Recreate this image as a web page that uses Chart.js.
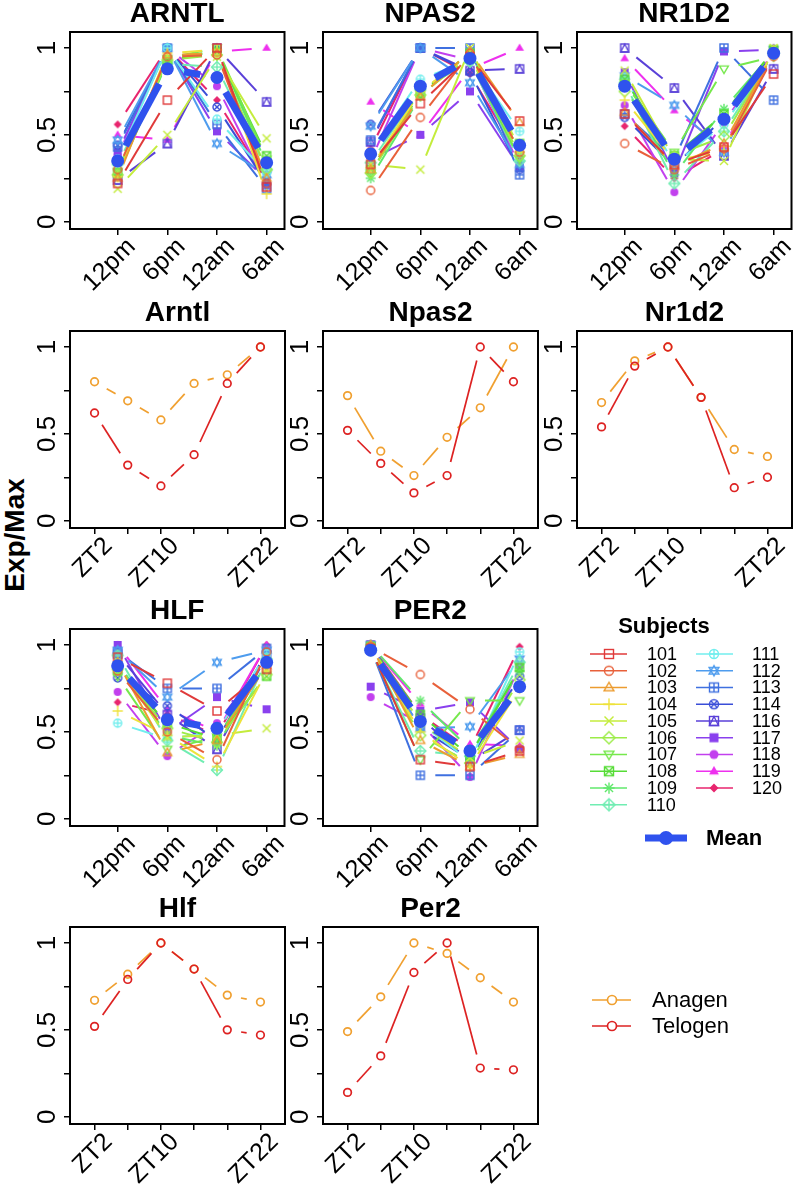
<!DOCTYPE html>
<html><head><meta charset="utf-8">
<script src="https://cdn.jsdelivr.net/npm/chart.js@4.4.1/dist/chart.umd.min.js"></script>
<style>
html,body{margin:0;padding:0;background:#fff;}
#page{position:relative;width:796px;height:1186px;overflow:hidden;background:#fff;}
canvas{position:absolute;}
#ylab{position:absolute;left:15px;top:535px;transform:translate(-50%,-50%) rotate(-90deg);font:bold 28px "Liberation Sans",Arial,sans-serif;white-space:nowrap;color:#000;}
</style></head>
<body><div id="page"><div id="ylab">Exp/Max</div></div>
<script>
// ---------------- DATA ----------------
const subjects = ['101','102','103','104','105','106','107','108','109','110','111','112','113','114','116','117','118','119','120'];
const humanTimes = ['12pm','6pm','12am','6am'];
const mouseTimes = ['ZT2','','ZT10','','','ZT22'];
const yTickValues = [0,0.25,0.5,0.75,1];
const yTickLabels = ['0','','0.5','','1'];

// per subject rows: [12pm, 6pm, 12am, 6am]
const ARNTL = [
 [0.22,0.70,1.00,0.20],[0.30,0.95,0.96,0.22],[0.25,0.96,0.97,0.25],[0.26,0.97,0.99,0.16],
 [0.19,0.50,0.95,0.48],[0.27,0.93,0.96,0.30],[0.29,0.94,1.00,0.36],[0.28,0.93,0.98,0.38],
 [0.27,0.92,0.99,0.33],[0.33,0.91,0.89,0.30],[0.36,1.00,0.59,0.28],[0.47,1.00,0.45,0.27],
 [0.43,1.00,0.56,0.19],[0.44,1.00,0.66,0.22],[0.24,0.45,1.00,0.69],[0.40,1.00,0.52,0.24],
 [0.38,1.00,0.78,0.21],[0.50,0.47,0.98,1.00],[0.56,1.00,0.70,0.23]];
const ARNTL_mean = [0.35,0.88,0.83,0.34];

const NPAS2 = [
 [0.33,0.68,0.95,0.58],[0.18,0.60,0.97,0.40],[0.30,0.72,0.98,0.57],[0.31,0.75,0.96,0.40],
 [0.33,0.30,1.00,0.42],[0.28,0.73,0.95,0.38],[0.28,0.76,0.93,0.36],[0.30,0.74,0.97,0.45],
 [0.25,0.72,0.98,0.40],[0.34,0.76,0.92,0.35],[0.40,0.82,0.93,0.52],[0.55,1.00,0.80,0.33],
 [0.47,1.00,1.00,0.27],[0.56,1.00,0.86,0.30],[0.46,1.00,0.87,0.88],[0.36,0.50,0.75,0.31],
 [0.35,1.00,0.93,0.32],[0.69,0.50,0.88,1.00],[0.42,1.00,0.85,0.37]];
const NPAS2_mean = [0.39,0.78,0.94,0.44];

const NR1D2 = [
 [0.62,0.33,0.43,0.85],[0.45,0.30,0.42,0.95],[0.63,0.32,0.45,0.97],[0.70,0.35,0.41,0.99],
 [0.87,0.36,0.35,1.00],[0.75,0.38,0.49,0.97],[0.80,0.40,0.88,0.95],[0.82,0.38,0.62,0.99],
 [0.78,0.27,0.65,0.98],[0.80,0.22,0.52,0.97],[0.83,0.33,0.56,0.96],[0.84,0.67,0.40,0.99],
 [0.62,0.36,1.00,0.70],[0.60,0.32,0.60,0.98],[1.00,0.77,0.38,0.88],[0.86,0.28,0.98,0.99],
 [0.67,0.17,0.57,0.99],[0.94,0.64,0.43,1.00],[0.55,0.25,0.42,0.96]];
const NR1D2_mean = [0.78,0.36,0.59,0.97];

const HLF = [
 [0.93,0.78,0.62,0.86],[0.85,0.50,0.34,0.96],[0.90,0.38,0.45,0.88],[0.62,0.48,0.30,0.85],
 [0.88,0.47,0.48,0.52],[0.86,0.52,0.44,0.83],[0.82,0.40,0.47,0.88],[0.85,0.55,0.46,0.82],
 [0.90,0.48,0.42,0.90],[0.94,0.45,0.28,0.92],[0.55,0.46,0.50,0.95],[0.97,0.70,0.90,0.97],
 [0.96,0.75,0.75,0.98],[0.81,0.65,0.45,0.96],[0.95,0.60,0.40,0.94],[1.00,0.50,0.70,0.63],
 [0.73,0.36,0.55,0.92],[1.00,0.63,0.50,1.00],[0.67,0.60,0.48,1.00]];
const HLF_mean = [0.88,0.57,0.52,0.90];

const PER2 = [
 [0.98,0.34,0.30,0.39],[0.99,0.83,0.63,0.40],[1.00,0.45,0.30,0.37],[0.98,0.50,0.30,0.75],
 [0.99,0.55,0.35,0.45],[0.97,0.48,0.32,0.80],[0.98,0.34,0.68,0.68],[0.99,0.60,0.36,0.87],
 [1.00,0.68,0.40,0.85],[0.97,0.39,0.36,0.90],[0.99,0.55,0.33,0.96],[1.00,0.52,0.53,0.92],
 [0.98,0.25,0.25,0.51],[0.99,0.52,0.34,0.82],[1.00,0.58,0.33,0.51],[0.76,0.62,0.67,0.40],
 [0.70,0.55,0.24,0.88],[1.00,0.66,0.43,0.42],[1.00,0.60,0.40,0.99]];
const PER2_mean = [0.97,0.56,0.39,0.76];

// mouse: ZT2, ZT6, ZT10, ZT14, ZT18, ZT22
const Arntl_anagen  = [0.80,0.69,0.58,0.79,0.84,1.00];
const Arntl_telogen = [0.62,0.32,0.20,0.38,0.79,1.00];
const Npas2_anagen  = [0.72,0.40,0.26,0.48,0.65,1.00];
const Npas2_telogen = [0.52,0.33,0.16,0.26,1.00,0.80];
const Nr1d2_anagen  = [0.68,0.92,1.00,0.71,0.41,0.37];
const Nr1d2_telogen = [0.54,0.89,1.00,0.71,0.19,0.25];
const Hlf_anagen    = [0.67,0.82,1.00,0.85,0.70,0.66];
const Hlf_telogen   = [0.52,0.79,1.00,0.85,0.50,0.47];
const Per2_anagen   = [0.49,0.69,1.00,0.94,0.80,0.66];
const Per2_telogen  = [0.14,0.35,0.83,1.00,0.28,0.27];

// ---------------- STYLE ----------------
const FONT = '"Liberation Sans", Arial, Helvetica, sans-serif';
const subjColors = ['#E03A3A','#E8603A','#EC9C30','#EEE23A','#C4EC3C','#9CEC48','#76E84C','#56DC36','#60E86C',
  '#70EDB2','#72EEEE','#4E9CEE','#3F70E0','#3A4ED8','#5A40D8','#8A40EE','#C240EE','#EE30EE','#E8256E'];
const MEANC = '#2F52EE';
const ANAC = '#F0A030', TELC = '#DD2222';

function makeMarker(pch, color, size) {
  const dim = Math.ceil(size * 1.7) + 4;
  const c = document.createElement('canvas'); c.width = c.height = dim;
  const g = c.getContext('2d'); g.translate(dim / 2, dim / 2);
  g.strokeStyle = color; g.fillStyle = color; g.lineWidth = 1.4;
  const h = size / 2;
  const line = (a, b, cc, d) => { g.beginPath(); g.moveTo(a, b); g.lineTo(cc, d); g.stroke(); };
  const sq = () => g.strokeRect(-h, -h, 2 * h, 2 * h);
  const circ = () => { g.beginPath(); g.arc(0, 0, h, 0, 2 * Math.PI); g.stroke(); };
  const tri = (up, fill) => { const t = h * 1.15; g.beginPath();
    if (up) { g.moveTo(0, -t); g.lineTo(t * 0.95, t * 0.62); g.lineTo(-t * 0.95, t * 0.62); }
    else { g.moveTo(0, t); g.lineTo(t * 0.95, -t * 0.62); g.lineTo(-t * 0.95, -t * 0.62); }
    g.closePath(); fill ? g.fill() : g.stroke(); };
  const dia = (k, fill) => { const t = h * k; g.beginPath(); g.moveTo(0, -t); g.lineTo(t, 0); g.lineTo(0, t); g.lineTo(-t, 0); g.closePath(); fill ? g.fill() : g.stroke(); };
  const plus = k => { line(-h * k, 0, h * k, 0); line(0, -h * k, 0, h * k); };
  const cross = k => { line(-h * k, -h * k, h * k, h * k); line(-h * k, h * k, h * k, -h * k); };
  switch (pch) {
    case 0: sq(); break;
    case 1: circ(); break;
    case 2: tri(true); break;
    case 3: plus(1.3); break;
    case 4: cross(1); break;
    case 5: dia(1.35); break;
    case 6: tri(false); break;
    case 7: sq(); cross(1); break;
    case 8: plus(1.25); cross(0.9); break;
    case 9: dia(1.35); plus(1.35); break;
    case 10: circ(); plus(1); break;
    case 11: tri(true); tri(false); break;
    case 12: sq(); plus(1); break;
    case 13: circ(); cross(0.707); break;
    case 14: sq(); g.beginPath(); g.moveTo(0, -h); g.lineTo(h, h); g.lineTo(-h, h); g.closePath(); g.stroke(); break;
    case 15: g.fillRect(-h, -h, 2 * h, 2 * h); break;
    case 16: g.beginPath(); g.arc(0, 0, h, 0, 2 * Math.PI); g.fill(); break;
    case 17: tri(true, true); break;
    case 18: dia(1.0, true); break;
  }
  return c;
}
const dataMarkers = subjects.map((s, i) => makeMarker(i, subjColors[i], 8));
const legendMarkers = subjects.map((s, i) => makeMarker(i, subjColors[i], 9));

// ---------------- PANELS ----------------
const BOXW = 215, BOXH = 197, YW = 70, TOPPAD = 32, XH = 62, RPAD = 6;

// R "type b" look: each segment leaves a gap of g pixels next to both of its points
const gapDash = g => ctx => {
  const L = Math.hypot(ctx.p1.x - ctx.p0.x, ctx.p1.y - ctx.p0.y);
  if (L <= 2 * g + 1) return [0, L + 1];
  return [0, g, L - 2 * g, g];
};

const deco = {
  id: 'deco',
  afterDraw(chart, args, o) {
    const { ctx, chartArea: a } = chart; const x = chart.scales.x, y = chart.scales.y;
    ctx.save();
    ctx.strokeStyle = '#000'; ctx.lineWidth = 2;
    ctx.strokeRect(a.left, a.top, a.right - a.left, a.bottom - a.top);
    ctx.fillStyle = '#000';
    ctx.font = 'bold 28px ' + FONT; ctx.textAlign = 'center'; ctx.textBaseline = 'middle';
    ctx.fillText(o.title, (a.left + a.right) / 2, a.top - 18);
    ctx.font = '26px ' + FONT;
    y.ticks.forEach((t, i) => {
      const lab = yTickLabels[i]; if (!lab) return;
      const py = y.getPixelForValue(t.value);
      ctx.save(); ctx.translate(a.left - 15, py); ctx.rotate(-Math.PI / 2);
      ctx.textAlign = 'center'; ctx.textBaseline = 'alphabetic'; ctx.fillText(lab, 0, 0); ctx.restore();
    });
    ctx.font = '25px ' + FONT;
    x.ticks.forEach((t, i) => {
      const lab = o.xlabels[i]; if (!lab) return;
      const px = x.getPixelForValue(t.value);
      ctx.save(); ctx.translate(px + 14, a.bottom + 14); ctx.rotate(-Math.PI / 4);
      ctx.textAlign = 'right'; ctx.textBaseline = 'middle'; ctx.fillText(lab, 0, 0); ctx.restore();
    });
    ctx.restore();
  }
};

function makeCanvas(boxLeft, boxTop) {
  const c = document.createElement('canvas');
  const w = YW + BOXW + RPAD, h = TOPPAD + BOXH + XH;
  c.width = w; c.height = h;
  c.style.left = (boxLeft - YW) + 'px'; c.style.top = (boxTop - TOPPAD) + 'px';
  c.style.width = w + 'px'; c.style.height = h + 'px';
  document.getElementById('page').appendChild(c);
  return c;
}

function panel(boxLeft, boxTop, title, datasets, nx, xlabels) {
  const c = makeCanvas(boxLeft, boxTop);
  const xmin = nx === 4 ? 0.04 : 0.26, xmax = nx === 4 ? 4.36 : 6.74;
  const xt = Array.from({ length: nx }, (_, i) => i + 1);
  const grid = { display: true, drawOnChartArea: false, drawTicks: true, tickLength: 6, color: '#000', lineWidth: 1.5 };
  new Chart(c, {
    type: 'line',
    data: { datasets },
    options: {
      responsive: false, animation: false, events: [],
      layout: { padding: { top: TOPPAD, right: RPAD, left: 0, bottom: 0 } },
      scales: {
        x: { type: 'linear', min: xmin, max: xmax, bounds: 'data', grid, border: { display: false },
             ticks: { display: false }, afterBuildTicks: s => { s.ticks = xt.map(v => ({ value: v })); },
             afterFit: s => { s.height = XH; } },
        y: { type: 'linear', min: -0.042, max: 1.092, bounds: 'data', grid, border: { display: false },
             ticks: { display: false }, afterBuildTicks: s => { s.ticks = yTickValues.map(v => ({ value: v })); },
             afterFit: s => { s.width = YW; } }
      },
      plugins: { legend: { display: false }, tooltip: { enabled: false }, colors: { enabled: false },
                 deco: { title, xlabels } }
    },
    plugins: [deco]
  });
}

const pts = arr => arr.map((v, j) => ({ x: j + 1, y: v }));

function humanSets(values, mean) {
  const ds = [];
  subjects.forEach((s, i) => {
    ds.push({ data: pts(values[i]), showLine: true, borderColor: subjColors[i], borderWidth: 2, tension: 0,
      pointRadius: 0, pointHoverRadius: 0, segment: { borderDash: gapDash(15) }, order: 10 });
    ds.push({ data: pts(values[i]), showLine: false, pointStyle: dataMarkers[i], pointRadius: 5, order: 2 });
  });
  ds.push({ data: pts(mean), showLine: true, borderColor: MEANC, borderWidth: 7, tension: 0,
    pointRadius: 0, pointHoverRadius: 0, segment: { borderDash: gapDash(17) }, order: 5 });
  ds.push({ data: pts(mean), showLine: false, pointStyle: 'circle', pointRadius: 6.5, pointBackgroundColor: MEANC,
    pointBorderColor: MEANC, pointBorderWidth: 0, order: 0 });
  return ds;
}

function mouseSets(ana, tel) {
  const ds = [];
  [[ana, ANAC], [tel, TELC]].forEach(([v, col], k) => {
    ds.push({ data: pts(v), showLine: true, borderColor: col, borderWidth: 1.7, tension: 0,
      pointRadius: 0, pointHoverRadius: 0, segment: { borderDash: gapDash(14) }, order: 10 - k });
    ds.push({ data: pts(v), showLine: false, pointStyle: 'circle', pointRadius: 3.8, pointBackgroundColor: 'rgba(0,0,0,0)',
      pointBorderColor: col, pointBorderWidth: 1.7, order: 2 - k });
  });
  return ds;
}

const colLeft = [70, 323, 577];
const rowTop = [32, 331, 629, 927];

panel(colLeft[0], rowTop[0], 'ARNTL', humanSets(ARNTL, ARNTL_mean), 4, humanTimes);
panel(colLeft[1], rowTop[0], 'NPAS2', humanSets(NPAS2, NPAS2_mean), 4, humanTimes);
panel(colLeft[2], rowTop[0], 'NR1D2', humanSets(NR1D2, NR1D2_mean), 4, humanTimes);
panel(colLeft[0], rowTop[1], 'Arntl', mouseSets(Arntl_anagen, Arntl_telogen), 6, mouseTimes);
panel(colLeft[1], rowTop[1], 'Npas2', mouseSets(Npas2_anagen, Npas2_telogen), 6, mouseTimes);
panel(colLeft[2], rowTop[1], 'Nr1d2', mouseSets(Nr1d2_anagen, Nr1d2_telogen), 6, mouseTimes);
panel(colLeft[0], rowTop[2], 'HLF', humanSets(HLF, HLF_mean), 4, humanTimes);
panel(colLeft[1], rowTop[2], 'PER2', humanSets(PER2, PER2_mean), 4, humanTimes);
panel(colLeft[0], rowTop[3], 'Hlf', mouseSets(Hlf_anagen, Hlf_telogen), 6, mouseTimes);
panel(colLeft[1], rowTop[3], 'Per2', mouseSets(Per2_anagen, Per2_telogen), 6, mouseTimes);

// ---------------- LEGENDS ----------------
const LGX = 560, LGY = 600;
const legendPlugin = {
  id: 'legendDraw',
  afterDraw(chart) {
    const ctx = chart.ctx; ctx.save();
    const X = v => v - LGX, Y = v => v - LGY;
    ctx.fillStyle = '#000';
    ctx.font = 'bold 22px ' + FONT; ctx.textAlign = 'center'; ctx.textBaseline = 'middle';
    ctx.fillText('Subjects', X(664), Y(627));
    ctx.font = '18px ' + FONT; ctx.textAlign = 'left';
    subjects.forEach((s, i) => {
      const col = i < 10 ? 0 : 1, row = i < 10 ? i : i - 10;
      const lx1 = col ? 696 : 590, lx2 = col ? 733 : 627, mx = col ? 714 : 609, tx = col ? 752 : 647;
      const yy = 654 + row * 16.75;
      ctx.strokeStyle = subjColors[i]; ctx.lineWidth = 1.5;
      ctx.beginPath(); ctx.moveTo(X(lx1), Y(yy)); ctx.lineTo(X(lx2), Y(yy)); ctx.stroke();
      const m = legendMarkers[i];
      ctx.drawImage(m, X(mx) - m.width / 2, Y(yy) - m.height / 2);
      ctx.fillStyle = '#000'; ctx.fillText(s, X(tx), Y(yy) + 1);
    });
    // Mean
    ctx.strokeStyle = MEANC; ctx.lineWidth = 7;
    ctx.beginPath(); ctx.moveTo(X(645), Y(838)); ctx.lineTo(X(687), Y(838)); ctx.stroke();
    ctx.fillStyle = MEANC; ctx.beginPath(); ctx.arc(X(666), Y(838), 7, 0, 2 * Math.PI); ctx.fill();
    ctx.fillStyle = '#000'; ctx.font = 'bold 22px ' + FONT; ctx.fillText('Mean', X(706), Y(839));
    // Anagen / Telogen
    ctx.font = '22px ' + FONT;
    [['Anagen', ANAC, 1000], ['Telogen', TELC, 1026]].forEach(([t, col, yy]) => {
      ctx.strokeStyle = col; ctx.lineWidth = 1.7;
      ctx.beginPath(); ctx.moveTo(X(592), Y(yy)); ctx.lineTo(X(631), Y(yy)); ctx.stroke();
      ctx.fillStyle = '#fff'; ctx.beginPath(); ctx.arc(X(612), Y(yy), 4.5, 0, 2 * Math.PI); ctx.fill(); ctx.stroke();
      ctx.fillStyle = '#000'; ctx.fillText(t, X(652), Y(yy) + 1);
    });
    ctx.restore();
  }
};
(function () {
  const c = document.createElement('canvas'); const w = 236, h = 460;
  c.width = w; c.height = h; c.style.left = LGX + 'px'; c.style.top = LGY + 'px';
  c.style.width = w + 'px'; c.style.height = h + 'px';
  document.getElementById('page').appendChild(c);
  new Chart(c, { type: 'scatter', data: { datasets: [] },
    options: { responsive: false, animation: false, events: [],
      scales: { x: { display: false }, y: { display: false } },
      plugins: { legend: { display: false }, tooltip: { enabled: false } } },
    plugins: [legendPlugin] });
})();
</script></body></html>
